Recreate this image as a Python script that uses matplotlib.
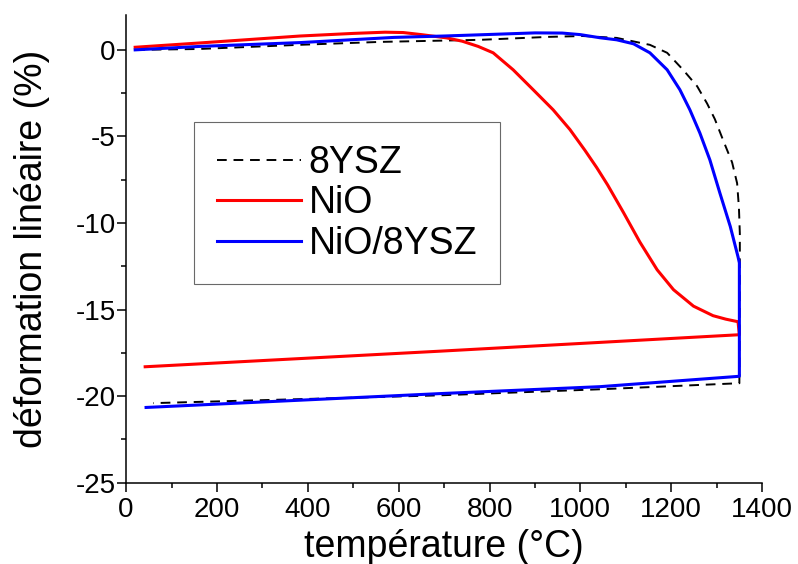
import matplotlib.pyplot as plt
from matplotlib.ticker import MultipleLocator

plt.rcParams['font.family'] = ['Liberation Sans', 'DejaVu Sans']
plt.rcParams['axes.unicode_minus'] = False

# 8YSZ : heating, vertical drop at 1350 C, then cooling
t_ysz = [20, 160, 380, 560, 780, 930, 1005, 1080, 1153, 1191, 1226, 1257, 1279,
         1296, 1314, 1334, 1345, 1349, 1351, 1351, 1350, 1043, 691, 60]
d_ysz = [0.0, 0.05, 0.29, 0.46, 0.58, 0.75, 0.8, 0.69, 0.29, -0.17, -1.15, -2.1, -3.1,
         -4.0, -5.2, -6.5, -7.7, -9.1, -10.6, -11.7, -19.25, -19.6, -19.95, -20.4]

# NiO
t_nio = [20, 163, 383, 500, 570, 610, 650, 706, 740, 775, 808, 852, 896, 940, 977,
         1010, 1036, 1060, 1095, 1131, 1169, 1205, 1249, 1292, 1320, 1347, 1350, 691, 42]
d_nio = [0.15, 0.4, 0.8, 0.95, 1.02, 1.0, 0.88, 0.69, 0.5, 0.2, -0.17, -1.15, -2.3,
         -3.46, -4.6, -5.8, -6.8, -7.8, -9.4, -11.1, -12.7, -13.85, -14.8, -15.35,
         -15.55, -15.7, -16.45, -17.4, -18.3]

# NiO/8YSZ
t_mix = [20, 163, 383, 590, 700, 779, 900, 960, 1000, 1043, 1080, 1117, 1153, 1191,
         1219, 1241, 1263, 1285, 1307, 1330, 1347, 1350, 1350, 1043, 691, 44]
d_mix = [0.0, 0.2, 0.42, 0.72, 0.8, 0.87, 0.98, 0.97, 0.88, 0.7, 0.58, 0.35, -0.17,
         -1.15, -2.3, -3.46, -4.8, -6.35, -8.26, -10.2, -11.95, -12.3, -18.85, -19.45,
         -19.85, -20.65]

fig = plt.figure(figsize=(7.98, 5.64), dpi=100)
ax = fig.add_axes([0.158, 0.144, 0.797, 0.829])

ax.plot(t_ysz, d_ysz, color='black', lw=1.4, linestyle=(0, (5, 3.5)), label='8YSZ')
ax.plot(t_nio, d_nio, color='#ff0000', lw=2.2, label='NiO')
ax.plot(t_mix, d_mix, color='#0000ff', lw=2.2, label='NiO/8YSZ')

ax.set_xlim(0, 1400)
ax.set_ylim(-25, 2)
ax.xaxis.set_major_locator(MultipleLocator(200))
ax.xaxis.set_minor_locator(MultipleLocator(100))
ax.yaxis.set_major_locator(MultipleLocator(5))
ax.yaxis.set_minor_locator(MultipleLocator(2.5))

for s in ['top', 'right']:
    ax.spines[s].set_visible(False)
for s in ['left', 'bottom']:
    ax.spines[s].set_linewidth(1.1)

ax.tick_params(which='major', direction='out', length=6.5, width=1.1, labelsize=20)
ax.tick_params(axis='x', which='major', pad=4)
ax.tick_params(axis='y', which='major', pad=1)
ax.tick_params(which='minor', direction='out', length=3.5, width=1.1)

ax.set_xlabel('température (°C)', fontsize=27, labelpad=4)
ax.set_ylabel('déformation linéaire (%)', fontsize=27, labelpad=18)

leg = ax.legend(loc='upper left', bbox_to_anchor=(0.107, 0.771), fontsize=27,
                frameon=True, fancybox=False, edgecolor='#444444',
                handlelength=2.25, handletextpad=0.2, labelspacing=0.12,
                borderpad=0.6, borderaxespad=0)
leg.get_frame().set_linewidth(0.8)

fig.savefig('out.png', dpi=100)
